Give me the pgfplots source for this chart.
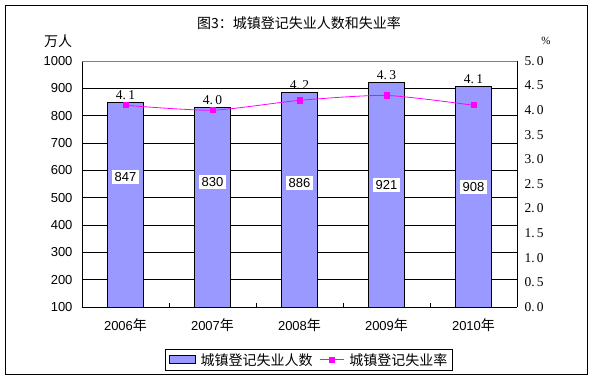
\documentclass[border=0pt]{standalone}
\usepackage{pgfplots}
\pgfplotsset{compat=1.18}
\usepackage{fontspec}
\setmainfont{Liberation Sans}
\newfontfamily\cjk{Noto Sans CJK SC}
\newfontfamily\serifnum{Liberation Serif}
\definecolor{barblue}{HTML}{9999FF}
\definecolor{mag}{HTML}{FF00FF}
\newcommand{\tf}{\fontsize{13}{15}\selectfont}
\newcommand{\rf}{\serifnum\fontsize{13.5}{15}\selectfont}
\newcommand{\cf}{\cjk\fontsize{14}{16}\selectfont}
\begin{document}
\begin{tikzpicture}[x=1pt,y=1pt]
\path (0,0) rectangle (597,380);
\draw[black, line width=0.9pt] (5,6) rectangle (587,375);
\node[font=\cf] at (299,357) {图3：城镇登记失业人数和失业率};
\node[font=\cf] at (58,339) {万人};
\node[font=\serifnum\fontsize{11}{13}\selectfont] at (546,339) {\%};
\begin{axis}[
  at={(82pt,73pt)}, anchor=south west,
  scale only axis, width=435pt, height=246pt,
  xmin=-0.5, xmax=4.5, ymin=100, ymax=1000,
  ytick={100,200,...,1000},
  xtick={0,1,2,3,4},
  xticklabels={2006{\cf 年},2007{\cf 年},2008{\cf 年},2009{\cf 年},2010{\cf 年}},
  extra x ticks={0.5,1.5,2.5,3.5},
  extra x tick labels={},
  extra x tick style={major tick length=4pt, tick align=inside, tick pos=bottom, tick style={black, line width=0.9pt}},
  major tick length=0pt,
  axis y line*=left,
  axis x line*=bottom,
  axis line style={black, line width=0.9pt},
  ymajorgrids, grid style={black, line width=0.9pt},
  /pgf/number format/assume math mode=true,
  /pgf/number format/1000 sep={},
  tick label style={font=\tf},
  yticklabel style={xshift=-6pt},
  xticklabel style={yshift=-8pt},
  ybar, bar width=36pt,
  clip=true,
]
\addplot[fill=barblue, draw=black, line width=0.9pt] coordinates {(0,847)(1,830)(2,886)(3,921)(4,908)};
\draw[gray, line width=0.9pt] (rel axis cs:0,1) -- (rel axis cs:1,1);
\draw[black, line width=0.9pt] (rel axis cs:1,0) -- (rel axis cs:1,1);
\node[fill=white, inner sep=2.5pt, font=\tf] at (axis cs:0,576) {847};
\node[fill=white, inner sep=2.5pt, font=\tf] at (axis cs:1,557) {830};
\node[fill=white, inner sep=2.5pt, font=\tf] at (axis cs:2,553) {886};
\node[fill=white, inner sep=2.5pt, font=\tf] at (axis cs:3,546) {921};
\node[fill=white, inner sep=2.5pt, font=\tf] at (axis cs:4,538) {908};
\node[above, inner sep=2.5pt, font=\rf] at (axis cs:0,847) {4.\,1};
\node[above, inner sep=2.5pt, font=\rf] at (axis cs:1,830) {4.\,0};
\node[above, inner sep=2.5pt, font=\rf] at (axis cs:2,886) {4.\,2};
\node[above, inner sep=2.5pt, font=\rf] at (axis cs:3,921) {4.\,3};
\node[above, inner sep=2.5pt, font=\rf] at (axis cs:4,908) {4.\,1};
\end{axis}
\begin{axis}[
  at={(82pt,73pt)}, anchor=south west,
  scale only axis, width=435pt, height=246pt,
  xmin=-0.5, xmax=4.5, ymin=0, ymax=5,
  axis y line*=right, axis x line=none,
  axis line style={black, line width=0.9pt},
  ytick={0,0.5,1,1.5,2,2.5,3,3.5,4,4.5,5},
  yticklabels={0.\,0,0.\,5,1.\,0,1.\,5,2.\,0,2.\,5,3.\,0,3.\,5,4.\,0,4.\,5,5.\,0},
  major tick length=0pt,
  yticklabel style={font=\rf, xshift=4pt},
  legend style={at={(0.522,-0.215)}, anchor=center, draw=black, line width=0.9pt,
    legend columns=2, font=\cf, inner xsep=3.5pt, inner ysep=1.5pt,
    /tikz/every odd column/.append style={column sep=3pt},
    /tikz/every even column/.append style={column sep=5pt}},
]
\addlegendimage{legend image code/.code={\draw[fill=barblue, draw=black, line width=0.9pt] (0pt,-4pt) rectangle (26pt,4pt);}}
\addlegendentry{城镇登记失业人数}
\addplot[mag, line width=0.8pt, smooth, tension=0.4, mark=square*, mark size=2.6pt, mark options={fill=mag, draw=mag},
  legend image code/.code={\draw[mag, line width=0.8pt] (0pt,0pt) -- (24pt,0pt); \fill[mag] (9.4pt,-2.6pt) rectangle (14.6pt,2.6pt);}] coordinates {(0,4.1)(1,4.0)(2,4.2)(3,4.3)(4,4.1)};
\addlegendentry{城镇登记失业率}
\end{axis}
\end{tikzpicture}
\end{document}
